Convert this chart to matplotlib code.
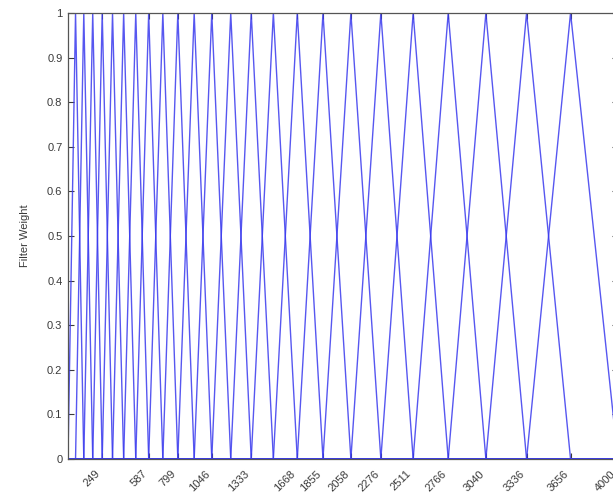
import matplotlib
matplotlib.use("Agg")
import matplotlib.pyplot as plt
import matplotlib.transforms as mtransforms
import numpy as np

# Filter centre frequencies (Hz); edges 0 and 4000 Hz
centers = [55, 115, 180, 249, 324, 405, 493, 587, 690, 799, 918, 1046,
           1184, 1333, 1494, 1668, 1855, 2058, 2276, 2511, 2766, 3040, 3336, 3656]
f_low = 0
f_high = 4000
tick_values = [249, 587, 799, 1046, 1333, 1668, 1855, 2058, 2276, 2511,
               2766, 3040, 3336, 3656, 4000]
tick_labels = [str(v) for v in tick_values]
y_ticks = [0, 0.1, 0.2, 0.3, 0.4, 0.5, 0.6, 0.7, 0.8, 0.9, 1]
y_labels = ['0', '0.1', '0.2', '0.3', '0.4', '0.5', '0.6', '0.7', '0.8', '0.9', '1']

plt.rcParams['font.family'] = ['Liberation Sans', 'DejaVu Sans']

fig = plt.figure(figsize=(6.13, 4.95), dpi=100)
ax = fig.add_axes([0.1109, 0.0727, 0.8970, 0.9010])

edges = [f_low] + centers + [f_high]
for i in range(1, len(edges) - 1):
    xs = [f_low, edges[i - 1], edges[i], edges[i + 1], f_high]
    ys = [0, 0, 1, 0, 0]
    ax.plot(xs, ys, color='#3a3aee', lw=1.0, alpha=0.85)

ax.set_xlim(f_low, f_high)
ax.set_ylim(0, 1)
ax.set_xticks(tick_values)
ax.set_xticklabels(tick_labels, rotation=45, ha='right', va='top',
                   rotation_mode='anchor')
ax.set_yticks(y_ticks)
ax.set_yticklabels(y_labels)
ax.tick_params(direction='in', length=4, width=0.8, labelsize=8,
               colors='#3a3a3a', top=True, right=True, pad=4)
ax.tick_params(axis='x', pad=7)
shift = mtransforms.ScaledTranslation(-5 / 72, 0, fig.dpi_scale_trans)
for lab in ax.get_xticklabels():
    lab.set_transform(lab.get_transform() + shift)
for s in ax.spines.values():
    s.set_color('#555555')
    s.set_linewidth(0.9)
ax.set_ylabel('Filter Weight', fontsize=8, color='#3a3a3a', labelpad=12)

fig.savefig('out.png', dpi=100)
